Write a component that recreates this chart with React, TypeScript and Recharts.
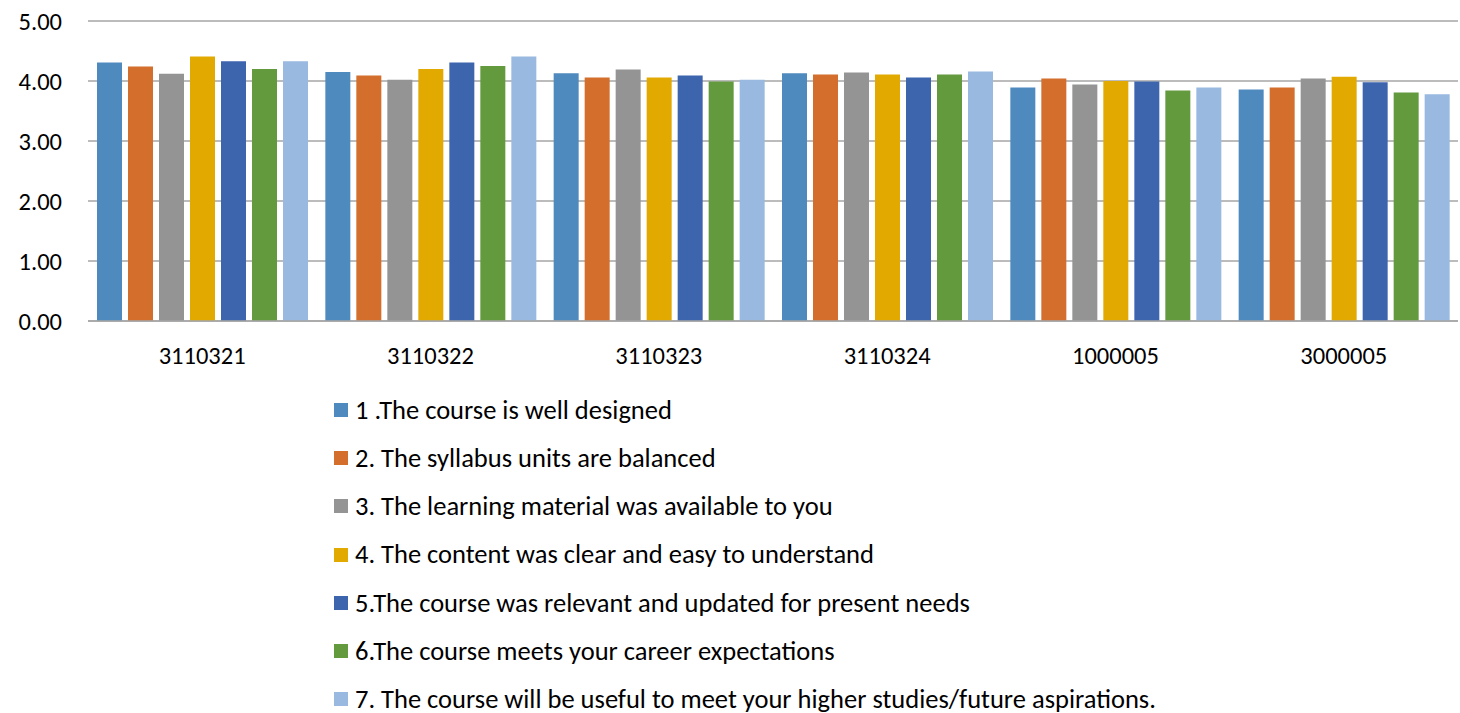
import React from 'react';
import { BarChart, Bar, XAxis, YAxis, CartesianGrid, Legend } from 'recharts';

const courses = ['3110321', '3110322', '3110323', '3110324', '1000005', '3000005'];

const q1 = [4.31, 4.15, 4.13, 4.13, 3.89, 3.86];
const q2 = [4.24, 4.09, 4.06, 4.11, 4.04, 3.89];
const q3 = [4.12, 4.02, 4.19, 4.14, 3.94, 4.04];
const q4 = [4.41, 4.2, 4.06, 4.11, 4.0, 4.07];
const q5 = [4.33, 4.31, 4.09, 4.06, 3.99, 3.98];
const q6 = [4.2, 4.25, 3.99, 4.11, 3.84, 3.81];
const q7 = [4.33, 4.41, 4.02, 4.16, 3.89, 3.78];

const questions = [
  '1 .The course is well designed',
  '2. The syllabus units are balanced',
  '3. The learning material was available to you',
  '4. The content was clear and easy to understand',
  '5.The course was relevant and updated for present needs',
  '6.The course meets your career expectations',
  '7. The course will be useful to meet your higher studies/future aspirations.',
];

const colors = ['#4f8abf', '#d46e2c', '#949494', '#e2aa00', '#3d65ae', '#639a3e', '#99b9e0'];
const yTicks = [0, 1, 2, 3, 4, 5];

const series = [q1, q2, q3, q4, q5, q6, q7];
const keys = ['q1', 'q2', 'q3', 'q4', 'q5', 'q6', 'q7'];

const data = courses.map((course, i) => {
  const row: Record<string, string | number> = { course };
  series.forEach((s, j) => {
    row[keys[j]] = s[i];
  });
  return row;
});

const font = 'Carlito, Calibri, Lato, sans-serif';

const renderLegend = () => (
  <div style={{ paddingTop: 35, fontFamily: font, fontSize: 26.5, lineHeight: 1, color: '#000' }}>
    {questions.map((q, i) => (
      <div key={q} style={{ height: 48.2, display: 'flex', alignItems: 'center', whiteSpace: 'nowrap' }}>
        <span style={{ display: 'inline-block', width: 14, height: 14, background: colors[i], marginRight: 7 }} />
        <span>{q}</span>
      </div>
    ))}
  </div>
);

export default function App() {
  return (
    <div style={{ position: 'absolute', left: 0, top: 0, background: '#fff' }}>
      <BarChart
        width={1460}
        height={713}
        data={data}
        margin={{ top: 21, right: 2, left: 0, bottom: 0 }}
        barCategoryGap={9}
        barGap={6}
      >
        <CartesianGrid vertical={false} stroke="#a6a6a6" strokeWidth={1.3} />
        <XAxis
          dataKey="course"
          height={30}
          tickLine={false}
          tickSize={0}
          tickMargin={26}
          axisLine={{ stroke: '#a6a6a6', strokeWidth: 1.3 }}
          tick={{ fill: '#000', fontSize: 24.5, fontFamily: font }}
        />
        <YAxis
          width={88}
          domain={[0, 5]}
          ticks={yTicks}
          tickFormatter={(v: number) => v.toFixed(2)}
          axisLine={false}
          tickLine={false}
          tickMargin={20}
          tick={{ fill: '#000', fontSize: 24.5, fontFamily: font }}
        />
        <Legend
          content={renderLegend}
          verticalAlign="bottom"
          wrapperStyle={{ left: 334, bottom: 0, width: 1120, height: 362 }}
        />
        {keys.map((k, i) => (
          <Bar key={k} dataKey={k} name={questions[i]} fill={colors[i]} isAnimationActive={false} />
        ))}
      </BarChart>
    </div>
  );
}
